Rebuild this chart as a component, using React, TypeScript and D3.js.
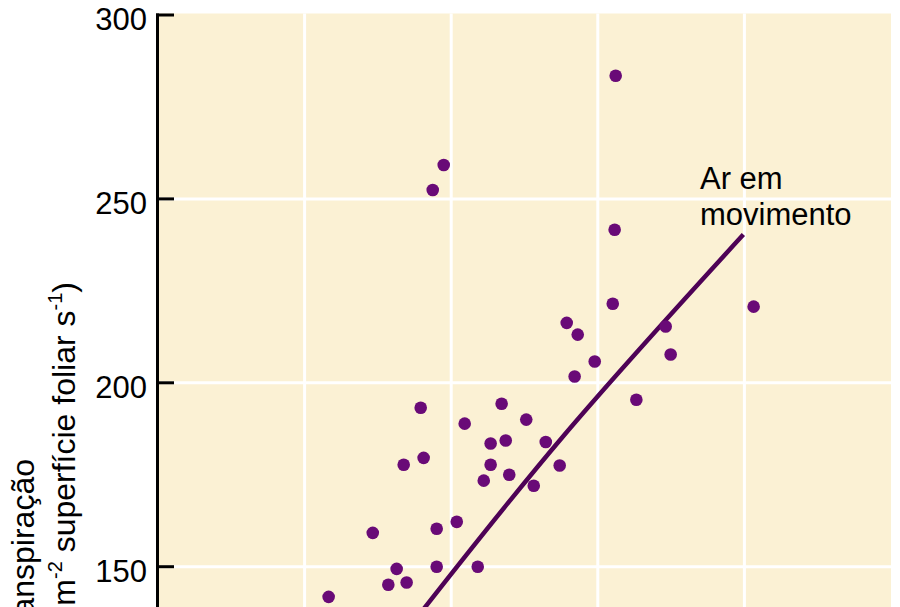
import React from 'react';
import * as d3 from 'd3';

// Scatter points (x in arbitrary units of the hidden x axis, y = transpiration)
const pointX = [3.122, 1.949, 1.874, 3.115, 3.102, 4.063, 2.788, 2.863, 3.463, 3.497, 2.979, 2.842, 3.263, 1.792, 2.344, 2.512, 2.092, 2.372, 2.269, 2.645, 1.812, 1.676, 2.269, 2.396, 2.740, 2.222, 2.563, 1.465, 1.901, 2.038, 1.628, 1.901, 2.181, 1.571, 1.696, 1.164];
const pointY = [283.5, 259.2, 252.4, 241.6, 221.5, 220.7, 216.3, 213.1, 215.3, 207.7, 205.8, 201.7, 195.4, 193.2, 194.3, 190.0, 188.9, 184.3, 183.5, 183.9, 179.6, 177.7, 177.7, 175.0, 177.5, 173.4, 172.0, 159.2, 160.3, 162.2, 149.4, 150.0, 150.0, 145.1, 145.7, 141.8];

// Fitted curve
const fitX = [1.651, 2.754, 3.993];
const fitY = [130.3, 185.0, 240.3];

const yTicks = [150, 200, 250, 300];
const yGrid = [150, 200, 250];
const xGrid = [1, 2, 3, 4];
const annotationLines = ['Ar em', 'movimento'];
const titleLine1 = 'Transpiração';

const FONT = '"Liberation Sans", Arial, Helvetica, sans-serif';

export default function App() {
  const x = d3.scaleLinear().domain([0, 5]).range([158, 891]);
  const y = d3.scaleLinear().domain([150, 300]).range([566.7, 15]);
  const plotTop = 13.5;
  const plotBottom = 640;

  const fitData = fitX.map((v, i) => [v, fitY[i]] as [number, number]);
  const linePath = d3
    .line<[number, number]>()
    .x((d) => x(d[0]))
    .y((d) => y(d[1]))
    .curve(d3.curveNatural)(fitData);

  return (
    <svg
      width={900}
      height={607}
      style={{ position: 'absolute', left: 0, top: 0, background: '#ffffff' }}
      fontFamily={FONT}
    >
      <rect x={x(0)} y={plotTop} width={x(5) - x(0)} height={plotBottom - plotTop} fill="#FBF1D4" />
      {xGrid.map((g) => (
        <line key={'vx' + g} x1={x(g)} x2={x(g)} y1={plotTop} y2={plotBottom} stroke="#ffffff" strokeWidth={3} />
      ))}
      {yGrid.map((g) => (
        <line key={'hy' + g} x1={x(0)} x2={x(5)} y1={y(g)} y2={y(g)} stroke="#ffffff" strokeWidth={3} />
      ))}
      {/* y axis */}
      <line x1={157.5} x2={157.5} y1={plotTop} y2={plotBottom} stroke="#000" strokeWidth={3} />
      {yTicks.map((t) => (
        <g key={'t' + t}>
          <line x1={156} x2={174} y1={y(t)} y2={y(t)} stroke="#000" strokeWidth={3} />
          <text x={147} y={y(t) + 15} textAnchor="end" fontSize={31} fill="#000">
            {t}
          </text>
        </g>
      ))}
      {/* y axis title */}
      <text transform={`translate(34, 459) rotate(-90)`} textAnchor="end" fontSize={32} fill="#000">
        {titleLine1}
      </text>
      <text transform={`translate(75, 282) rotate(-90)`} textAnchor="end" fontSize={32} fill="#000">
        (mg m
        <tspan fontSize={20} dy={-13}>-2</tspan>
        <tspan dy={13}> superfície foliar s</tspan>
        <tspan fontSize={20} dy={-13}>-1</tspan>
        <tspan dy={13}>)</tspan>
      </text>
      {/* fitted line */}
      <path d={linePath || ''} fill="none" stroke="#4E0256" strokeWidth={4.5} />
      {/* points */}
      {pointX.map((v, i) => (
        <circle key={'p' + i} cx={x(v)} cy={y(pointY[i])} r={6.3} fill="#690A77" />
      ))}
      {/* annotation */}
      {annotationLines.map((s, i) => (
        <text key={'a' + i} x={700} y={188.5 + i * 36.5} fontSize={31} fill="#000">
          {s}
        </text>
      ))}
    </svg>
  );
}
